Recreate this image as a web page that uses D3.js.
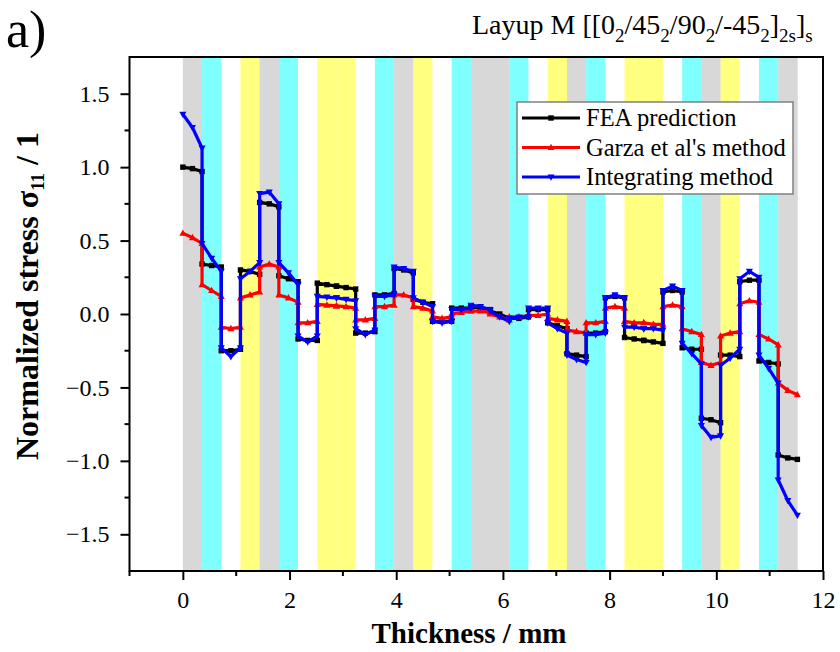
<!DOCTYPE html>
<html>
<head>
<meta charset="utf-8">
<script src="https://cdn.jsdelivr.net/npm/d3@7/dist/d3.min.js"></script>
<style>
  html, body { margin: 0; padding: 0; background: #fff; }
  svg { display: block; }
  text { font-family: "Liberation Serif", "Times New Roman", serif; fill: #000; }
</style>
</head>
<body>
<svg id="chart" width="840" height="652"></svg>
<script>
// Ply-pair orientation through the thickness (each entry = 2 plies)
const plyAngles = [0, 45, 90, -45, 0, 45, 90, -45, -45, 90, 45, 0, -45, 90, 45, 0,
                   0, 45, 90, -45, 0, 45, 90, -45, -45, 90, 45, 0, -45, 90, 45, 0];
const bandThickness = 0.36; // mm per ply pair

// Normalized stress sigma_11: three samples (bottom, middle, top) per ply pair
const feaValues = [
  1.00, 0.99, 0.97,   0.34, 0.33, 0.32,   -0.25, -0.25, -0.24,   0.30, 0.29, 0.27,
  0.76, 0.75, 0.73,   0.26, 0.24, 0.22,   -0.17, -0.18, -0.18,   0.21, 0.20, 0.19,
  0.19, 0.18, 0.17,   -0.13, -0.13, -0.12, 0.13, 0.13, 0.14,    0.31, 0.30, 0.28,
  0.10, 0.08, 0.07,   -0.05, -0.05, -0.05, 0.04, 0.04, 0.04,    0.05, 0.04, 0.03,
  0.02, 0.00, -0.03,  -0.03, -0.03, -0.02, 0.03, 0.03, 0.03,    -0.06, -0.08, -0.10,
  -0.27, -0.28, -0.29, -0.13, -0.13, -0.12, 0.11, 0.12, 0.11,   -0.16, -0.17, -0.18,
  -0.18, -0.19, -0.20, 0.15, 0.16, 0.15,  -0.23, -0.24, -0.24,  -0.71, -0.72, -0.74,
  -0.28, -0.28, -0.29, 0.22, 0.23, 0.23,  -0.32, -0.33, -0.34,  -0.96, -0.98, -0.99
];
const garzaValues = [
  0.55, 0.52, 0.48,   0.20, 0.16, 0.12,   -0.09, -0.10, -0.09,   0.11, 0.13, 0.15,
  0.32, 0.34, 0.32,   0.13, 0.11, 0.08,   -0.06, -0.06, -0.05,   0.065, 0.06, 0.055,
  0.055, 0.05, 0.04,  -0.04, -0.04, -0.03, 0.05, 0.05, 0.06,    0.13, 0.13, 0.11,
  0.05, 0.04, 0.02,   -0.02, -0.03, -0.02, 0.00, 0.01, 0.02,    0.02, 0.02, 0.01,
  0.00, -0.02, -0.04, -0.02, -0.02, -0.01, -0.01, -0.01, 0.00,  -0.03, -0.04, -0.05,
  -0.11, -0.12, -0.13, -0.06, -0.06, -0.05, 0.04, 0.05, 0.04,   -0.05, -0.06, -0.06,
  -0.06, -0.07, -0.07, 0.05, 0.06, 0.05,  -0.10, -0.12, -0.14,  -0.33, -0.35, -0.33,
  -0.15, -0.13, -0.12, 0.07, 0.09, 0.08,  -0.14, -0.17, -0.21,  -0.47, -0.52, -0.55
];
const integratingValues = [
  1.36, 1.27, 1.13,   0.48, 0.38, 0.29,   -0.23, -0.29, -0.23,   0.24, 0.29, 0.35,
  0.82, 0.83, 0.75,   0.35, 0.28, 0.20,   -0.15, -0.19, -0.15,   0.12, 0.115, 0.11,
  0.11, 0.10, 0.09,   -0.10, -0.14, -0.11, 0.12, 0.12, 0.13,    0.32, 0.31, 0.29,
  0.11, 0.08, 0.05,   -0.05, -0.06, -0.05, 0.03, 0.03, 0.04,    0.06, 0.05, 0.03,
  0.02, -0.02, -0.05, -0.03, -0.02, -0.02, 0.04, 0.04, 0.04,    -0.06, -0.10, -0.13,
  -0.28, -0.31, -0.33, -0.14, -0.14, -0.13, 0.11, 0.13, 0.11,   -0.09, -0.09, -0.10,
  -0.10, -0.10, -0.11, 0.16, 0.19, 0.16,  -0.20, -0.27, -0.34,  -0.76, -0.84, -0.83,
  -0.35, -0.30, -0.24, 0.24, 0.29, 0.25,  -0.28, -0.37, -0.47,  -1.13, -1.27, -1.37
];

const seriesNames = ["FEA prediction", "Garza et al's method", "Integrating method"];
const xTicks = [0, 2, 4, 6, 8, 10, 12];
const yTicks = [-1.5, -1.0, -0.5, 0.0, 0.5, 1.0, 1.5];

const angleColor = { "0": "#d8d8d8", "45": "#80ffff", "90": "#ffffff", "-45": "#ffff80" };

const svg = d3.select("#chart");
const margin = { left: 129.5, right: 17, top: 57, bottom: 81 };
const W = 840, H = 652;

const x = d3.scaleLinear().domain([-1, 12]).range([margin.left, W - margin.right]);
const y = d3.scaleLinear().domain([-1.75, 1.75]).range([H - margin.bottom, margin.top]);

// ply bands
svg.append("g").selectAll("rect")
  .data(plyAngles)
  .join("rect")
  .attr("x", (d, i) => x(i * bandThickness))
  .attr("width", (d, i) => x((i + 1) * bandThickness) - x(i * bandThickness) + 0.3)
  .attr("y", y(1.75))
  .attr("height", y(-1.75) - y(1.75))
  .attr("fill", d => angleColor[String(d)]);

// expand per-band samples into (thickness, stress) points
function toPoints(vals) {
  const pts = [];
  plyAngles.forEach((a, i) => {
    for (let j = 0; j < 3; j++) {
      pts.push([(i + j * 0.5) * bandThickness, vals[i * 3 + j]]);
    }
  });
  return pts;
}

const series = [
  { name: seriesNames[0], color: "#000000", marker: "square", pts: toPoints(feaValues) },
  { name: seriesNames[1], color: "#ff0000", marker: "up", pts: toPoints(garzaValues) },
  { name: seriesNames[2], color: "#0000ff", marker: "down", pts: toPoints(integratingValues) }
];

const line = d3.line().x(d => x(d[0])).y(d => y(d[1]));

function markerPath(type, s) {
  if (type === "square") return `M${-s},${-s}h${2 * s}v${2 * s}h${-2 * s}Z`;
  if (type === "up") return `M0,${-s * 1.2}L${s * 1.1},${s * 0.8}L${-s * 1.1},${s * 0.8}Z`;
  return `M0,${s * 1.2}L${s * 1.1},${-s * 0.8}L${-s * 1.1},${-s * 0.8}Z`;
}

const plot = svg.append("g");
series.forEach(s => {
  const g = plot.append("g");
  g.append("path")
    .attr("d", line(s.pts))
    .attr("fill", "none")
    .attr("stroke", s.color)
    .attr("stroke-width", 3.2)
    .attr("stroke-linejoin", "round");
  g.selectAll("path.m")
    .data(s.pts)
    .join("path")
    .attr("class", "m")
    .attr("transform", d => `translate(${x(d[0])},${y(d[1])})`)
    .attr("d", markerPath(s.marker, s.marker === "square" ? 2.7 : 3.2))
    .attr("fill", s.color);
});

// frame
const x0 = x(-1), x1 = x(12), yTop = y(1.75), yBot = y(-1.75);
svg.append("rect")
  .attr("x", x0).attr("y", yTop)
  .attr("width", x1 - x0).attr("height", yBot - yTop)
  .attr("fill", "none").attr("stroke", "#000").attr("stroke-width", 2);

// bottom axis
const xAxis = d3.axisBottom(x).tickValues(xTicks).tickSize(9).tickPadding(11)
  .tickFormat(d3.format("d"));
const gx = svg.append("g").attr("transform", `translate(0,${yBot})`).call(xAxis);
gx.select(".domain").remove();
gx.selectAll(".tick line").attr("stroke-width", 2);
gx.selectAll(".tick text").attr("font-size", 24).attr("font-family", "Liberation Serif");
const xMinor = d3.range(-1, 12, 2);
svg.append("g").selectAll("line").data(xMinor).join("line")
  .attr("x1", d => x(d)).attr("x2", d => x(d))
  .attr("y1", yBot).attr("y2", yBot + 5)
  .attr("stroke", "#000").attr("stroke-width", 2);

// left axis
const yAxis = d3.axisLeft(y).tickValues(yTicks).tickSize(9).tickPadding(11)
  .tickFormat(d3.format(".1f"));
const gy = svg.append("g").attr("transform", `translate(${x0},0)`).call(yAxis);
gy.select(".domain").remove();
gy.selectAll(".tick line").attr("stroke-width", 2);
gy.selectAll(".tick text").attr("font-size", 24).attr("font-family", "Liberation Serif");
const yMinor = [-1.25, -0.75, -0.25, 0.25, 0.75, 1.25];
svg.append("g").selectAll("line").data(yMinor).join("line")
  .attr("x1", x0 - 5).attr("x2", x0)
  .attr("y1", d => y(d)).attr("y2", d => y(d))
  .attr("stroke", "#000").attr("stroke-width", 2);

// axis titles
svg.append("text")
  .attr("x", 469).attr("y", 643)
  .attr("text-anchor", "middle")
  .attr("font-size", 29).attr("font-weight", "bold")
  .text("Thickness / mm");

const yl = svg.append("text")
  .attr("transform", `translate(38,296) rotate(-90)`)
  .attr("text-anchor", "middle")
  .attr("font-size", 32).attr("font-weight", "bold");
yl.append("tspan").text("Normalized stress σ");
yl.append("tspan").attr("font-size", 19).attr("dy", 6).text("11");
yl.append("tspan").attr("dy", -6).text(" / 1");

// panel tag
svg.append("text").attr("x", 6).attr("y", 47).attr("font-size", 52).text("a)");

// title
const t = svg.append("text").attr("x", 472).attr("y", 34).attr("font-size", 28);
const titleParts = [["Layup M [[0", 0], ["2", 1], ["/45", 0], ["2", 1], ["/90", 0], ["2", 1],
  ["/-45", 0], ["2", 1], ["]", 0], ["2s", 1], ["]", 0], ["s", 1]];
let sub = false;
titleParts.forEach(([txt, isSub]) => {
  const sp = t.append("tspan").text(txt);
  if (isSub) sp.attr("font-size", 19);
  if (isSub && !sub) { sp.attr("dy", 8); sub = true; }
  else if (!isSub && sub) { sp.attr("dy", -8); sub = false; }
});

// legend
const lg = svg.append("g");
lg.append("rect").attr("x", 517).attr("y", 102).attr("width", 276).attr("height", 92)
  .attr("fill", "#fff").attr("stroke", "#808080").attr("stroke-width", 1.5);
series.forEach((s, i) => {
  const cy = 118 + i * 29.5;
  lg.append("line").attr("x1", 522).attr("x2", 580).attr("y1", cy).attr("y2", cy)
    .attr("stroke", s.color).attr("stroke-width", 3.2);
  lg.append("path").attr("transform", `translate(551,${cy})`)
    .attr("d", markerPath(s.marker, s.marker === "square" ? 2.7 : 3.2)).attr("fill", s.color);
  lg.append("text").attr("x", 586).attr("y", cy + 8).attr("font-size", 24.5).text(s.name);
});
</script>
</body>
</html>
